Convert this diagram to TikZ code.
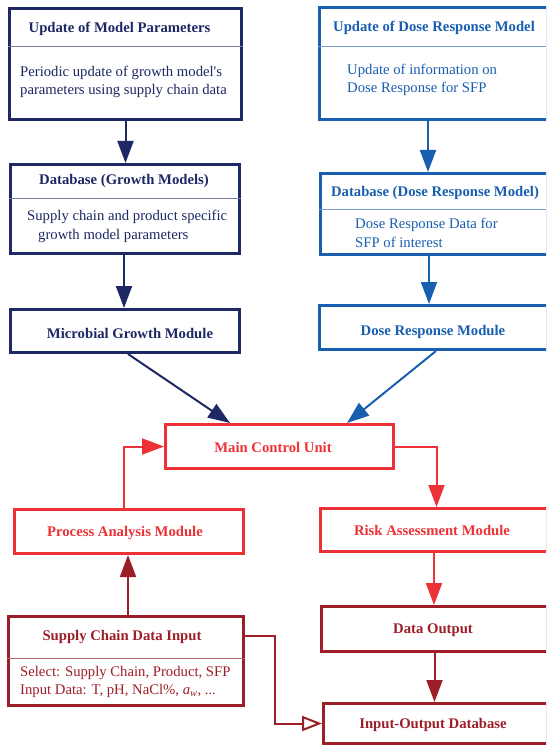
\documentclass[tikz,border=0pt]{standalone}
\usepackage{fontspec}
\setmainfont{Liberation Serif}
\usetikzlibrary{arrows.meta}

\definecolor{navy}{RGB}{30,40,100}
\definecolor{dblue}{RGB}{25,95,175}
\definecolor{bred}{RGB}{237,50,55}
\definecolor{dred}{RGB}{158,30,40}

\tikzset{
  box/.style={draw=#1, line width=3pt, fill=white, inner sep=0pt},
  ttl/.style={font=\fontsize{14.7}{17}\selectfont\bfseries, inner sep=0pt, anchor=base, yshift=-5pt},
  txt/.style={font=\fontsize{14.7}{17}\selectfont, inner sep=0pt, anchor=base west, yshift=-5pt},
  divider/.style={line width=0.9pt},
  link/.style={line width=2pt, -{Triangle[length=22pt,width=16pt]}},
  openlink/.style={line width=2pt, -{Triangle[open,length=20pt,width=15pt,fill=white]}},
}

\begin{document}
\begin{tikzpicture}[x=1pt,y=-1pt]
\useasboundingbox (0,0) rectangle (546,746);
\clip (0,0) rectangle (546,746);

% ---------- growth model column ----------
\node[box=navy, minimum width=232pt, minimum height=111pt] (upm) at (125.5,64) {};
\draw[divider, navy!60] (upm.west |- 0,46) -- (upm.east |- 0,46);
\node[ttl, navy] (upmT) at (119.5,28) {Update of Model Parameters};
\node[txt, navy] at (20,72) {Periodic update of growth model\textquotesingle s};
\node[txt, navy] at (20,90) {parameters using supply chain data};

\node[box=navy, minimum width=229pt, minimum height=89pt] (dgm) at (125,209) {};
\draw[divider, navy!60] (dgm.west |- 0,198) -- (dgm.east |- 0,198);
\node[ttl, navy] (dgmT) at (124,180) {Database (Growth Models)};
\node[txt, navy] at (27,215) {Supply chain and product specific};
\node[txt, navy] at (38,234) {growth model parameters};

\node[box=navy, minimum width=229pt, minimum height=43pt] (mgm) at (125,331) {};
\node[ttl, navy] (mgmT) at (130,333) {Microbial Growth Module};

% ---------- dose response column ----------
\node[box=dblue, minimum width=228pt, minimum height=112pt] (udr) at (433.5,63.5) {};
\draw[divider, dblue!60] (udr.west |- 0,46) -- (udr.east |- 0,46);
\node[ttl, dblue] (udrT) at (434,27) {Update of Dose Response Model};
\node[txt, dblue] at (347,70) {Update of information on};
\node[txt, dblue] at (347,88) {Dose Response for SFP};

\node[box=dblue, minimum width=227pt, minimum height=81pt] (ddr) at (434,214) {};
\draw[divider, dblue!60] (ddr.west |- 0,209) -- (ddr.east |- 0,209);
\node[ttl, dblue] (ddrT) at (435,191) {Database (Dose Response Model)};
\node[txt, dblue] at (355,223) {Dose Response Data for};
\node[txt, dblue] at (355,242) {SFP of interest};

\node[box=dblue, minimum width=228pt, minimum height=44pt] (drm) at (433.5,327.5) {};
\node[ttl, dblue] (drmT) at (433,330) {Dose Response Module};

% ---------- control and analysis ----------
\node[box=bred, minimum width=228pt, minimum height=44pt] (mcu) at (279.5,446.5) {};
\node[ttl, bred] (mcuT) at (273,447) {Main Control Unit};

\node[box=bred, minimum width=229pt, minimum height=44pt] (pam) at (129,531.5) {};
\node[ttl, bred] (pamT) at (125,531) {Process Analysis Module};

\node[box=bred, minimum width=227pt, minimum height=43pt] (ram) at (434,530) {};
\node[ttl, bred] (ramT) at (432,530) {Risk Assessment Module};

% ---------- data input / output ----------
\node[box=dred, minimum width=226pt, minimum height=45pt] (dout) at (434.5,629) {};
\node[ttl, dred] (doutT) at (433,628) {Data Output};

\node[box=dred, minimum width=224pt, minimum height=40pt] (iodb) at (435.5,723.5) {};
\node[ttl, dred] (iodbT) at (433,723) {Input-Output Database};

\node[box=dred, minimum width=235pt, minimum height=89pt] (scdi) at (126,661) {};
\draw[divider, dred!70] (scdi.west |- 0,658) -- (scdi.east |- 0,658);
\node[ttl, dred] (scdiT) at (122,635) {Supply Chain Data Input};
\node[txt, dred] at (20,671) {Select: Supply Chain, Product, SFP};
\node[txt, dred] at (20,689) {Input Data: T, pH, NaCl\%, \textit{a}\textsubscript{\textit{w}}, ...};

% ---------- connectors ----------
\draw[link, navy] (upm.south) -- (upm.south |- dgm.north);
\draw[link, navy] ([xshift=-1pt]dgm.south) -- ([xshift=-1pt]dgm.south |- mgm.north);
\draw[link, navy] ([xshift=3pt]mgm.south) -- ([xshift=-49.5pt]mcu.north);

\draw[link, dblue] ([xshift=-5.5pt]udr.south) -- ([xshift=-5.5pt]udr.south |- ddr.north);
\draw[link, dblue] ([xshift=-5pt]ddr.south) -- ([xshift=-5pt]ddr.south |- drm.north);
\draw[link, dblue] ([xshift=2.5pt]drm.south) -- ([xshift=67.5pt]mcu.north);

\draw[link, bred] ([xshift=-5pt]pam.north) |- (mcu.west);
\draw[link, bred] (mcu.east) -| ([xshift=2.5pt]ram.north);
\draw[link, bred] (ram.south) -- (ram.south |- dout.north);

\draw[link, dred] (dout.south) -- (dout.south |- iodb.north);
\draw[link, dred] ([xshift=2pt]scdi.north) -- ([xshift=2pt]scdi.north |- pam.south);
\draw[openlink, dred] (scdiT -| scdi.east) -- ++(30,0) |- (iodb.west);
\end{tikzpicture}
\end{document}
